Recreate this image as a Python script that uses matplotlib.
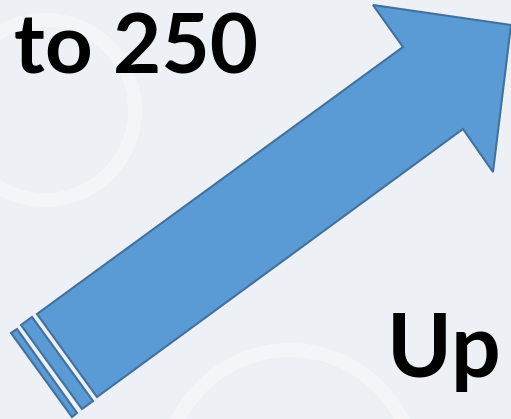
import matplotlib.pyplot as plt
from matplotlib.patches import Polygon, Circle

# arrow outline in picture pixels (x right, y down)
body_x = [37, 403, 373, 511, 493, 463, 97]
body_y = [314, 47, 5, 25, 172, 129, 397]
stripe_a_x = [21, 32, 93, 82]
stripe_a_y = [325, 317, 401, 409]
stripe_b_x = [11, 17, 77, 72]
stripe_b_y = [333, 329, 413, 417]
labels = ["to 250", "Up"]

fig = plt.figure(figsize=(5.11, 4.19), dpi=100)
ax = fig.add_axes([0, 0, 1, 1])
ax.set_xlim(0, 511)
ax.set_ylim(419, 0)
ax.axis('off')
fig.patch.set_facecolor('#edf0f5')

# faint watermark rings
for cx, cy, r in [(45, 110, 90), (290, 475, 125)]:
    ax.add_patch(Circle((cx, cy), r, fill=False, ec='white', lw=10, alpha=0.4))

fill, edge = '#5b9bd5', '#41719c'
for xs, ys in [(body_x, body_y), (stripe_a_x, stripe_a_y), (stripe_b_x, stripe_b_y)]:
    ax.add_patch(Polygon(list(zip(xs, ys)), closed=True, fc=fill, ec=edge, lw=1.5))

ax.text(14, 73, labels[0], fontsize=60, fontweight='bold', family='Lato',
        va='baseline', ha='left', color='black')
ax.text(387, 377, labels[1], fontsize=63, fontweight='bold', family='Lato',
        va='baseline', ha='left', color='black')

fig.savefig('out.png', dpi=100, facecolor=fig.get_facecolor())
